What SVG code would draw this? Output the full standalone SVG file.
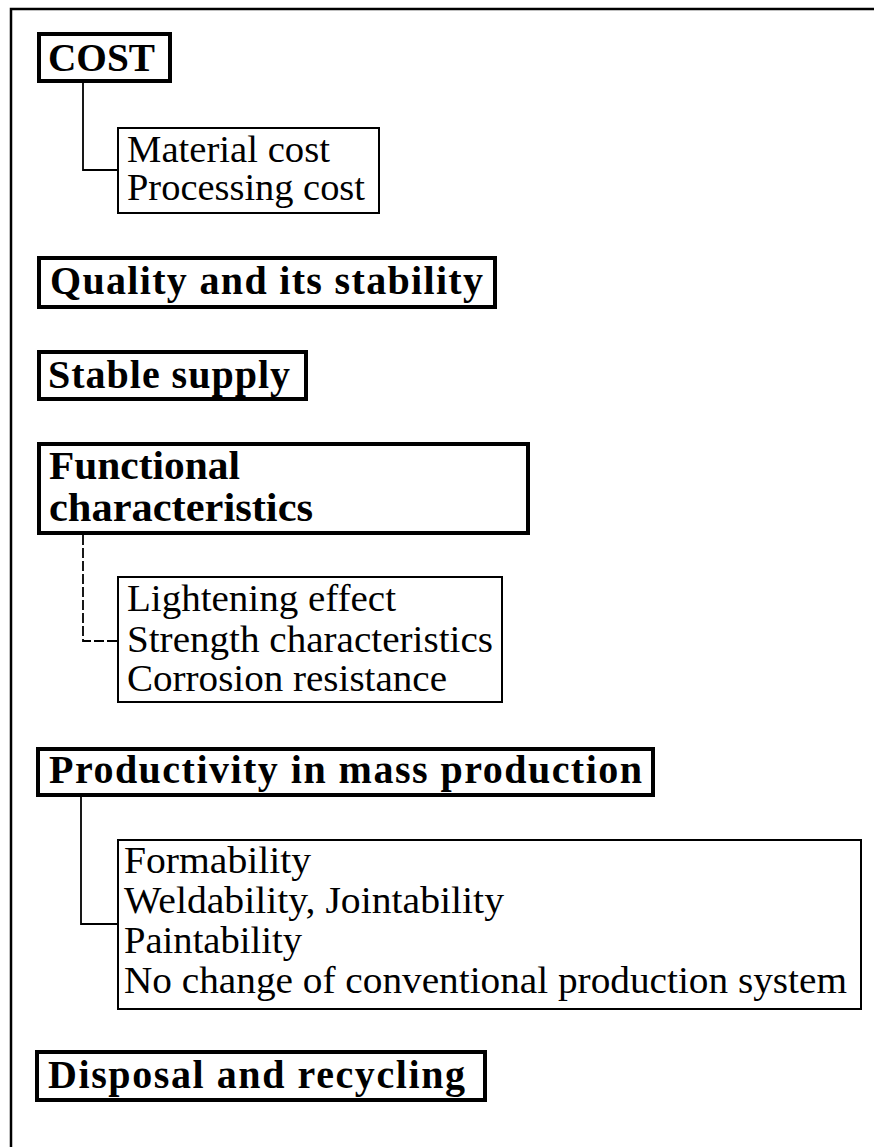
<svg xmlns="http://www.w3.org/2000/svg" width="874" height="1147" viewBox="0 0 874 1147">
<style>
.hd{fill:#fff;stroke:#000;stroke-width:4}
.sb{fill:#fff;stroke:#000;stroke-width:2}
.ht{font-family:"Liberation Serif","Times New Roman",serif;font-weight:bold;font-size:40px;fill:#000}
.bt{font-family:"Liberation Serif","Times New Roman",serif;font-size:37px;fill:#000}
.cn{fill:none;stroke:#000;stroke-width:1.8}
</style>
<rect width="874" height="1147" fill="#fff"/>
<path d="M11 1147V9H874" fill="none" stroke="#000" stroke-width="2.5"/>
<g id="connectors">
<path class="cn" d="M83 83V170H118"/>
<path class="cn" d="M83 535V641H118" stroke-width="1.3" stroke-dasharray="10 3"/>
<path class="cn" d="M81 797V924H118"/>
</g>
<g id="cost">
<rect class="hd" x="39" y="34" width="131" height="47"/>
<text class="ht" x="48" y="71" textLength="107" lengthAdjust="spacingAndGlyphs">COST</text>
</g>
<g id="cost-items">
<rect class="sb" x="118" y="128" width="261" height="85"/>
<text class="bt" x="127" y="162" textLength="203" lengthAdjust="spacingAndGlyphs">Material cost</text>
<text class="bt" x="127" y="200" textLength="238" lengthAdjust="spacingAndGlyphs">Processing cost</text>
</g>
<g id="quality">
<rect class="hd" x="39" y="258" width="456" height="49"/>
<text class="ht" x="50" y="294" textLength="433" lengthAdjust="spacing">Quality and its stability</text>
</g>
<g id="supply">
<rect class="hd" x="39" y="352" width="267" height="47"/>
<text class="ht" x="48" y="388" textLength="242" lengthAdjust="spacing">Stable supply</text>
</g>
<g id="functional">
<rect class="hd" x="39" y="444" width="489" height="89"/>
<text class="ht" x="49" y="479" font-size="35" textLength="191" lengthAdjust="spacingAndGlyphs">Functional</text>
<text class="ht" x="49" y="521" font-size="35" textLength="264" lengthAdjust="spacingAndGlyphs">characteristics</text>
</g>
<g id="functional-items">
<rect class="sb" x="118" y="577" width="384" height="125"/>
<text class="bt" x="127" y="611" textLength="269" lengthAdjust="spacingAndGlyphs">Lightening effect</text>
<text class="bt" x="127" y="652" textLength="366" lengthAdjust="spacingAndGlyphs">Strength characteristics</text>
<text class="bt" x="127" y="691" textLength="320" lengthAdjust="spacingAndGlyphs">Corrosion resistance</text>
</g>
<g id="productivity">
<rect class="hd" x="38" y="749" width="615" height="46"/>
<text class="ht" x="49" y="783" textLength="593" lengthAdjust="spacing">Productivity in mass production</text>
</g>
<g id="productivity-items">
<rect class="sb" x="118" y="840" width="743" height="169"/>
<text class="bt" x="124" y="873" textLength="187" lengthAdjust="spacingAndGlyphs">Formability</text>
<text class="bt" x="124" y="913" textLength="380" lengthAdjust="spacingAndGlyphs">Weldability, Jointability</text>
<text class="bt" x="124" y="953" textLength="178" lengthAdjust="spacingAndGlyphs">Paintability</text>
<text class="bt" x="124" y="993" textLength="723" lengthAdjust="spacingAndGlyphs">No change of conventional production system</text>
</g>
<g id="disposal">
<rect class="hd" x="37" y="1052" width="448" height="48"/>
<text class="ht" x="48" y="1088" textLength="417" lengthAdjust="spacing">Disposal and recycling</text>
</g>
</svg>
